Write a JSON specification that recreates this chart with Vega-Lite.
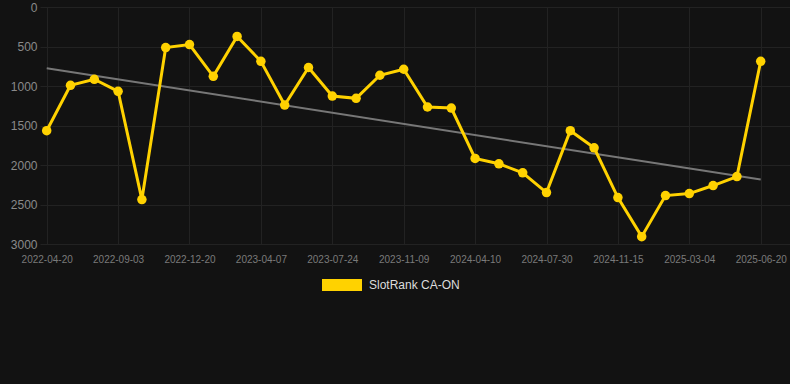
{
  "$schema": "https://vega.github.io/schema/vega-lite/v6.json",
  "autosize": {"type": "none"},
  "width": 750,
  "height": 237,
  "padding": {"left": 40, "top": 7, "right": 0, "bottom": 140},
  "background": "#121212",
  "config": {
    "view": {"stroke": null},
    "font": "Liberation Sans"
  },
  "datasets": {
    "ranks": [
      {"date": "2022-04-20", "rank": 1566},
      {"date": "2022-06-04", "rank": 991},
      {"date": "2022-07-19", "rank": 915},
      {"date": "2022-09-03", "rank": 1067},
      {"date": "2022-10-09", "rank": 2438},
      {"date": "2022-11-14", "rank": 513},
      {"date": "2022-12-20", "rank": 475},
      {"date": "2023-01-25", "rank": 877},
      {"date": "2023-03-02", "rank": 373},
      {"date": "2023-04-07", "rank": 687},
      {"date": "2023-05-13", "rank": 1241},
      {"date": "2023-06-18", "rank": 766},
      {"date": "2023-07-24", "rank": 1127},
      {"date": "2023-08-29", "rank": 1156},
      {"date": "2023-10-04", "rank": 864},
      {"date": "2023-11-09", "rank": 788},
      {"date": "2023-12-20", "rank": 1266},
      {"date": "2024-02-29", "rank": 1279},
      {"date": "2024-04-10", "rank": 1917},
      {"date": "2024-05-17", "rank": 1985},
      {"date": "2024-06-23", "rank": 2099},
      {"date": "2024-07-30", "rank": 2349},
      {"date": "2024-09-04", "rank": 1566},
      {"date": "2024-10-10", "rank": 1782},
      {"date": "2024-11-15", "rank": 2412},
      {"date": "2024-12-21", "rank": 2907},
      {"date": "2025-01-27", "rank": 2387},
      {"date": "2025-03-04", "rank": 2362},
      {"date": "2025-04-09", "rank": 2260},
      {"date": "2025-05-15", "rank": 2146},
      {"date": "2025-06-20", "rank": 687}
    ],
    "trend": [
      {"date": "2022-04-20", "rank": 775},
      {"date": "2025-06-20", "rank": 2184}
    ]
  },
  "encoding": {
    "x": {
      "field": "date",
      "type": "ordinal",
      "sort": null,
      "scale": {
        "type": "point",
        "padding": 0.756,
        "align": 0.186,
        "domain": ["2022-04-20", "2022-06-04", "2022-07-19", "2022-09-03", "2022-10-09", "2022-11-14", "2022-12-20", "2023-01-25", "2023-03-02", "2023-04-07", "2023-05-13", "2023-06-18", "2023-07-24", "2023-08-29", "2023-10-04", "2023-11-09", "2023-12-20", "2024-02-29", "2024-04-10", "2024-05-17", "2024-06-23", "2024-07-30", "2024-09-04", "2024-10-10", "2024-11-15", "2024-12-21", "2025-01-27", "2025-03-04", "2025-04-09", "2025-05-15", "2025-06-20"]
      },
      "axis": {
        "title": null,
        "values": ["2022-04-20", "2022-09-03", "2022-12-20", "2023-04-07", "2023-07-24", "2023-11-09", "2024-04-10", "2024-07-30", "2024-11-15", "2025-03-04", "2025-06-20"],
        "labelAngle": 0,
        "labelColor": "#7a7a7a",
        "labelFontSize": 10,
        "labelPadding": 10,
        "ticks": false,
        "domain": false,
        "grid": true,
        "gridColor": "#222222",
        "gridWidth": 1
      }
    },
    "y": {
      "field": "rank",
      "type": "quantitative",
      "scale": {"domain": [0, 3000], "reverse": true, "nice": false},
      "axis": {
        "title": null,
        "values": [0, 500, 1000, 1500, 2000, 2500, 3000],
        "format": "d",
        "labelColor": "#8a8a8a",
        "labelFontSize": 12,
        "labelPadding": 3,
        "ticks": false,
        "domain": false,
        "grid": true,
        "gridColor": "#222222",
        "gridWidth": 1
      }
    }
  },
  "layer": [
    {
      "data": {"name": "trend"},
      "mark": {"type": "line", "color": "#777777", "strokeWidth": 2}
    },
    {
      "data": {"name": "ranks"},
      "mark": {"type": "line", "strokeWidth": 3, "point": {"filled": true, "size": 90, "opacity": 1}},
      "encoding": {
        "color": {
          "datum": "SlotRank CA-ON",
          "type": "nominal",
          "scale": {"range": ["#FFD200"]},
          "legend": {
            "title": null,
            "orient": "none",
            "legendX": 282,
            "legendY": 258,
            "symbolType": "M-1,-0.3L1,-0.3L1,0.3L-1,0.3Z",
            "symbolSize": 1600,
            "symbolStrokeWidth": 0,
            "symbolFillColor": "#FFD200",
            "labelColor": "#dddddd",
            "labelFontSize": 12,
            "labelOffset": 7
          }
        }
      }
    }
  ]
}
